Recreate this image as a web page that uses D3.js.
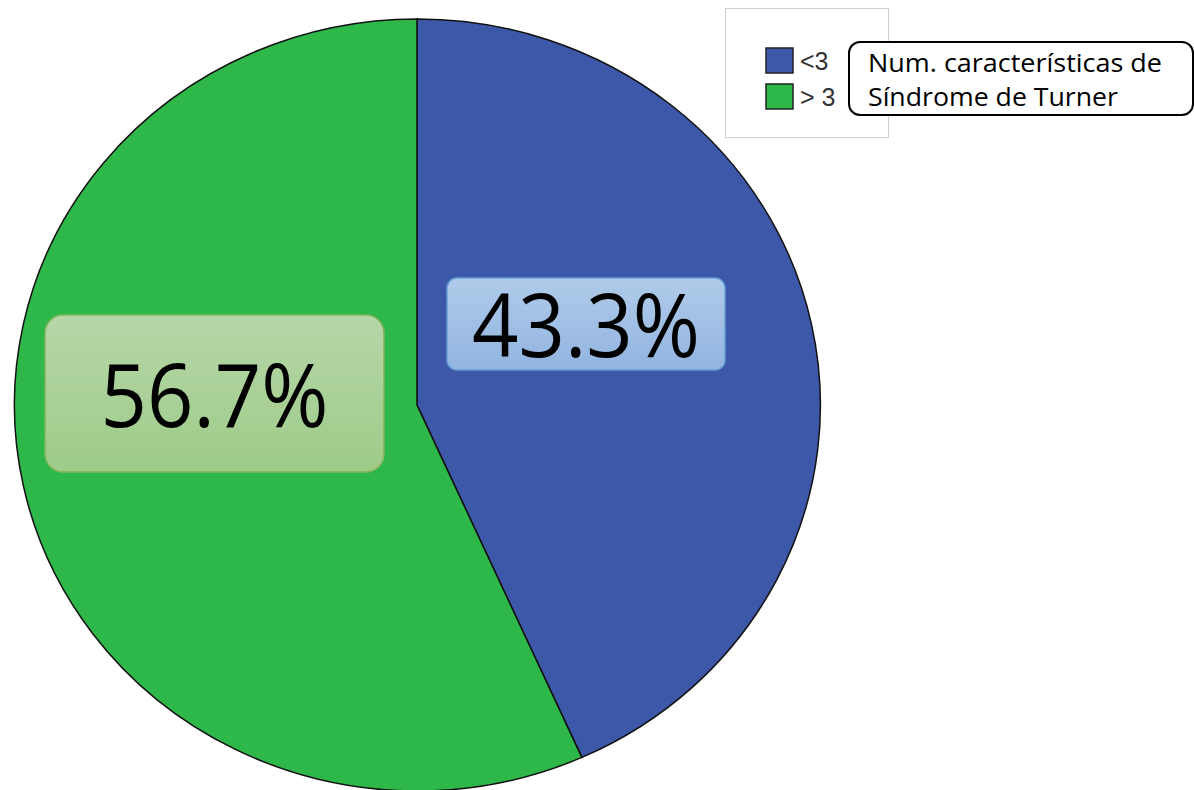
<!DOCTYPE html>
<html>
<head>
<meta charset="utf-8">
<script src="https://cdn.jsdelivr.net/npm/d3@7"></script>
<style>
  body { margin: 0; background: #fff; }
  svg { display: block; }
</style>
</head>
<body>
<svg width="1194" height="790"></svg>
<script>
var categories = ["<3", "> 3"];
var values = [43.3, 56.7];
var labels = ["43.3%", "56.7%"];
var colors = ["#3d57a9", "#2eb84a"];
var legendTitle = ["Num. características de", "Síndrome de Turner"];

var svg = d3.select("svg");

var cx = 417, cy = 405, rx = 403, ry = 386;

var defs = svg.append("defs");
var gBlue = defs.append("linearGradient").attr("id", "gBlue").attr("x1", 0).attr("y1", 0).attr("x2", 0).attr("y2", 1);
gBlue.append("stop").attr("offset", "0%").attr("stop-color", "#b0cbea");
gBlue.append("stop").attr("offset", "100%").attr("stop-color", "#92b4e0");
var gGreen = defs.append("linearGradient").attr("id", "gGreen").attr("x1", 0).attr("y1", 0).attr("x2", 0).attr("y2", 1);
gGreen.append("stop").attr("offset", "0%").attr("stop-color", "#b6d7a8");
gGreen.append("stop").attr("offset", "100%").attr("stop-color", "#9ecb88");

var pie = d3.pie().sort(null).value(function (d) { return d; });
var arc = d3.arc().innerRadius(0).outerRadius(1);

var pieG = svg.append("g")
  .attr("transform", "translate(" + cx + "," + cy + ") scale(" + rx + "," + ry + ")");

pieG.selectAll("path")
  .data(pie(values))
  .enter()
  .append("path")
  .attr("d", arc)
  .attr("fill", function (d, i) { return colors[i]; })
  .attr("stroke", "#111")
  .attr("stroke-width", 1.5)
  .attr("vector-effect", "non-scaling-stroke");

// percentage label boxes
var boxes = [
  { x: 447, y: 278, w: 278, h: 92, fill: "url(#gBlue)", stroke: "#6a9fd6" },
  { x: 45, y: 315, w: 339, h: 157, fill: "url(#gGreen)", stroke: "#82b45a" }
];

var lab = svg.append("g").selectAll("g")
  .data(labels)
  .enter()
  .append("g");

lab.append("rect")
  .attr("x", function (d, i) { return boxes[i].x; })
  .attr("y", function (d, i) { return boxes[i].y; })
  .attr("width", function (d, i) { return boxes[i].w; })
  .attr("height", function (d, i) { return boxes[i].h; })
  .attr("rx", function (d, i) { return i ? 18 : 10; })
  .attr("fill", function (d, i) { return boxes[i].fill; })
  .attr("stroke", function (d, i) { return boxes[i].stroke; })
  .attr("stroke-width", 1.5);

lab.append("text")
  .attr("x", function (d, i) { return boxes[i].x + boxes[i].w / 2; })
  .attr("y", function (d, i) { return i ? 427 : 357; })
  .attr("text-anchor", "middle")
  .attr("font-family", "'Open Sans', sans-serif")
  .attr("font-size", 88)
  .attr("textLength", 228)
  .attr("lengthAdjust", "spacingAndGlyphs")
  .attr("fill", "#000")
  .text(function (d) { return d; });

// legend
var legend = svg.append("g");
legend.append("rect")
  .attr("x", 725.5).attr("y", 8.5)
  .attr("width", 163).attr("height", 129)
  .attr("fill", "#fff")
  .attr("stroke", "#cfcfcf");

var item = legend.selectAll("g.item")
  .data(categories)
  .enter()
  .append("g")
  .attr("class", "item")
  .attr("transform", function (d, i) { return "translate(766," + (48 + i * 36) + ")"; });

item.append("rect")
  .attr("width", 27).attr("height", 25)
  .attr("fill", function (d, i) { return colors[i]; })
  .attr("stroke", "#222")
  .attr("stroke-width", 1.5);

item.append("text")
  .attr("x", 34).attr("y", 22)
  .attr("font-family", "'Liberation Sans', Arial, sans-serif")
  .attr("font-size", 25)
  .attr("fill", "#333")
  .text(function (d) { return d; });

// legend title callout
legend.append("rect")
  .attr("x", 849).attr("y", 42)
  .attr("width", 344).attr("height", 73)
  .attr("rx", 11)
  .attr("fill", "#fff")
  .attr("stroke", "#000")
  .attr("stroke-width", 2);

var titleWidths = [294, 250];
legend.selectAll("text.title")
  .data(legendTitle)
  .enter()
  .append("text")
  .attr("class", "title")
  .attr("x", 868)
  .attr("y", function (d, i) { return 72 + i * 34; })
  .attr("font-family", "'Open Sans', sans-serif")
  .attr("font-size", 25)
  .attr("textLength", function (d, i) { return titleWidths[i]; })
  .attr("lengthAdjust", "spacingAndGlyphs")
  .attr("fill", "#000")
  .text(function (d) { return d; });
</script>
</body>
</html>
